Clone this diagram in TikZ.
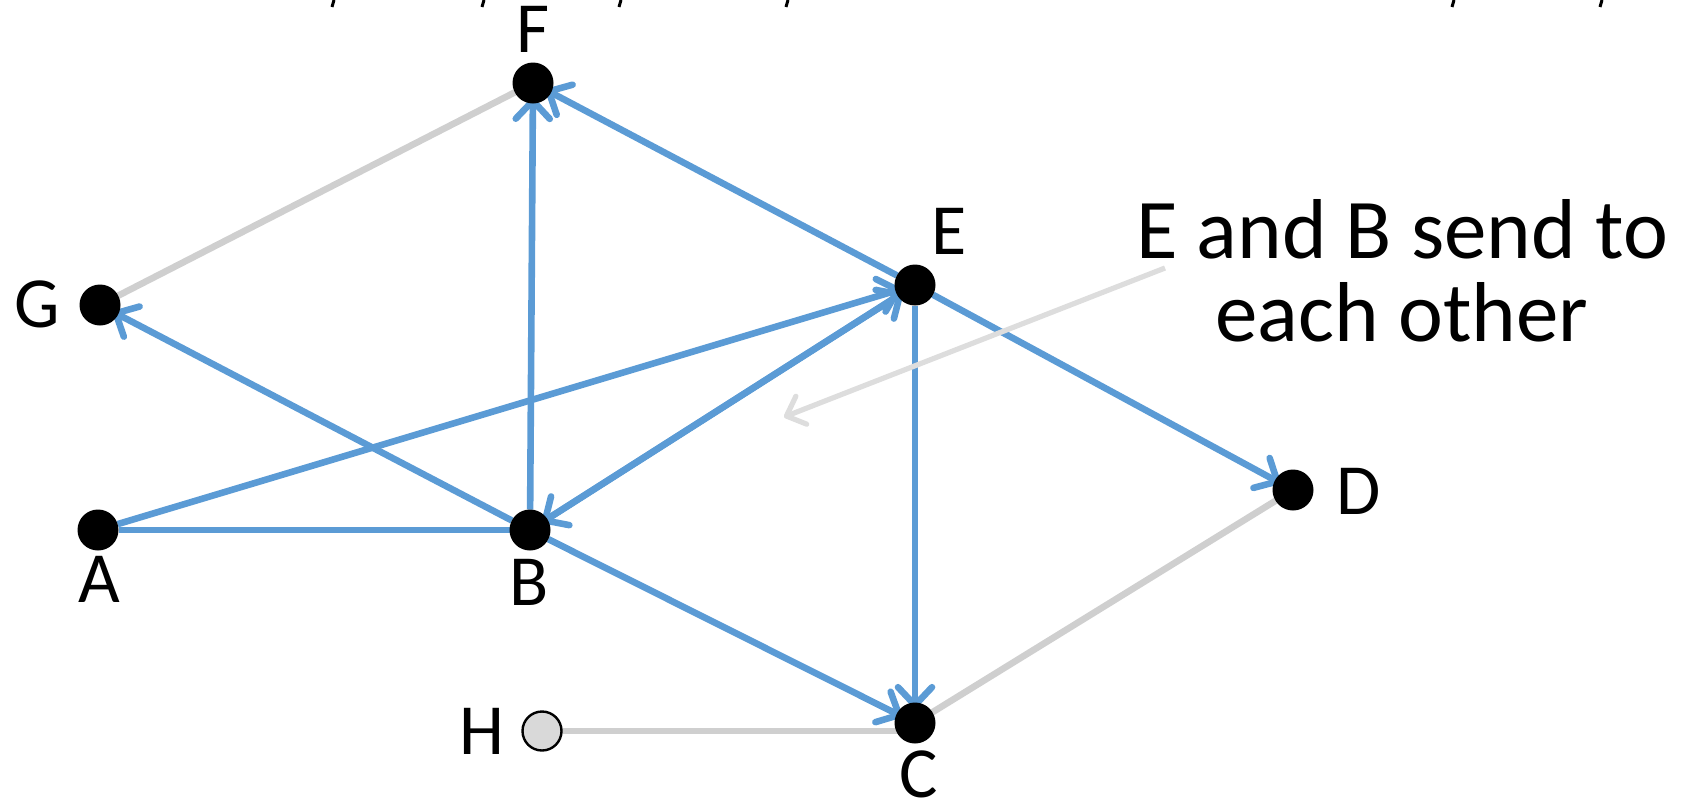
\documentclass[tikz,border=0pt]{standalone}
\usepackage{fontspec}
\setmainfont{Carlito}
\usetikzlibrary{arrows.meta,backgrounds}
\definecolor{eblue}{HTML}{5B9BD5}
\definecolor{egray}{HTML}{CFCFCF}
\definecolor{agray}{HTML}{DDDDDD}
\definecolor{hgray}{HTML}{D9D9D9}
\begin{document}
\begin{tikzpicture}[x=0.5pt,y=-0.5pt,
  vtx/.style={circle,fill=black,inner sep=0pt,outer sep=0pt,minimum size=20.5pt},
  hvtx/.style={circle,fill=hgray,draw=black,line width=1.2pt,inner sep=0pt,outer sep=0pt,minimum size=19.5pt},
  lbl/.style={font=\fontsize{36}{40}\selectfont,inner sep=0pt,anchor=base},
  ann/.style={font=\fontsize{42.5}{44}\selectfont,inner sep=0pt,anchor=base},
  bedge/.style={draw=eblue,line width=3.3pt},
  barrow/.style={bedge,shorten >=-3pt,-{Straight Barb[length=9pt,width=17pt,round]}},
  gedge/.style={draw=egray,line width=3.3pt},
  aarrow/.style={draw=agray,line width=2.6pt,-{Straight Barb[length=8pt,width=15pt,round]}},
  frag/.style={draw=black,line width=1.5pt}]
\useasboundingbox (0,0) rectangle (1681,804);
% fragments of text cut off at the top
\foreach \fx in {332,482,619,786,1452,1600}{
  \draw[frag] (\fx+2,0) -- (\fx,7);
}
% vertices
\node[vtx] (F) at (533,83) {};
\node[vtx] (G) at (100,305) {};
\node[vtx] (E) at (915,285) {};
\node[vtx] (D) at (1293,490) {};
\node[vtx] (A) at (98,530) {};
\node[vtx] (B) at (530,530) {};
\node[vtx] (C) at (915,723) {};
\node[hvtx] (H) at (542,731) {};
% labels
\node[lbl] (lF) at (533,52) {F};
\node[lbl] (lG) at (37,327) {G};
\node[lbl] (lE) at (949,254) {E};
\node[lbl] (lD) at (1359,514) {D};
\node[lbl] (lA) at (99,602) {A};
\node[lbl] (lB) at (529,605) {B};
\node[lbl] (lC) at (919,797) {C};
\node[lbl] (lH) at (482,754) {H};
% annotation
\node[ann] (ann1) at (1402,258) {E and B send to};
\node[ann] (ann2) at (1402,341) {each other};
\coordinate (aS) at (1165,268);
\coordinate (aT) at (784,417);
\coordinate (hc) at (H -| C);
\begin{scope}[on background layer]
  \draw[gedge] (G) -- (F);
  \draw[gedge] (D) -- (C);
  \draw[gedge] (H.east) -- (hc);
  \draw[bedge] (A) -- (B);
  \draw[barrow] (B) -- (F);
  \draw[barrow] (E) -- (F);
  \draw[barrow] (B) -- (G);
  \draw[barrow] (A) -- (E);
  \draw[barrow] (B) -- (E);
  \draw[barrow] (E) -- (B);
  \draw[barrow] (E) -- (D);
  \draw[barrow] (E) -- (C);
  \draw[barrow] (B) -- (C);
  \draw[aarrow] (aS) -- (aT);
\end{scope}
\end{tikzpicture}
\end{document}
